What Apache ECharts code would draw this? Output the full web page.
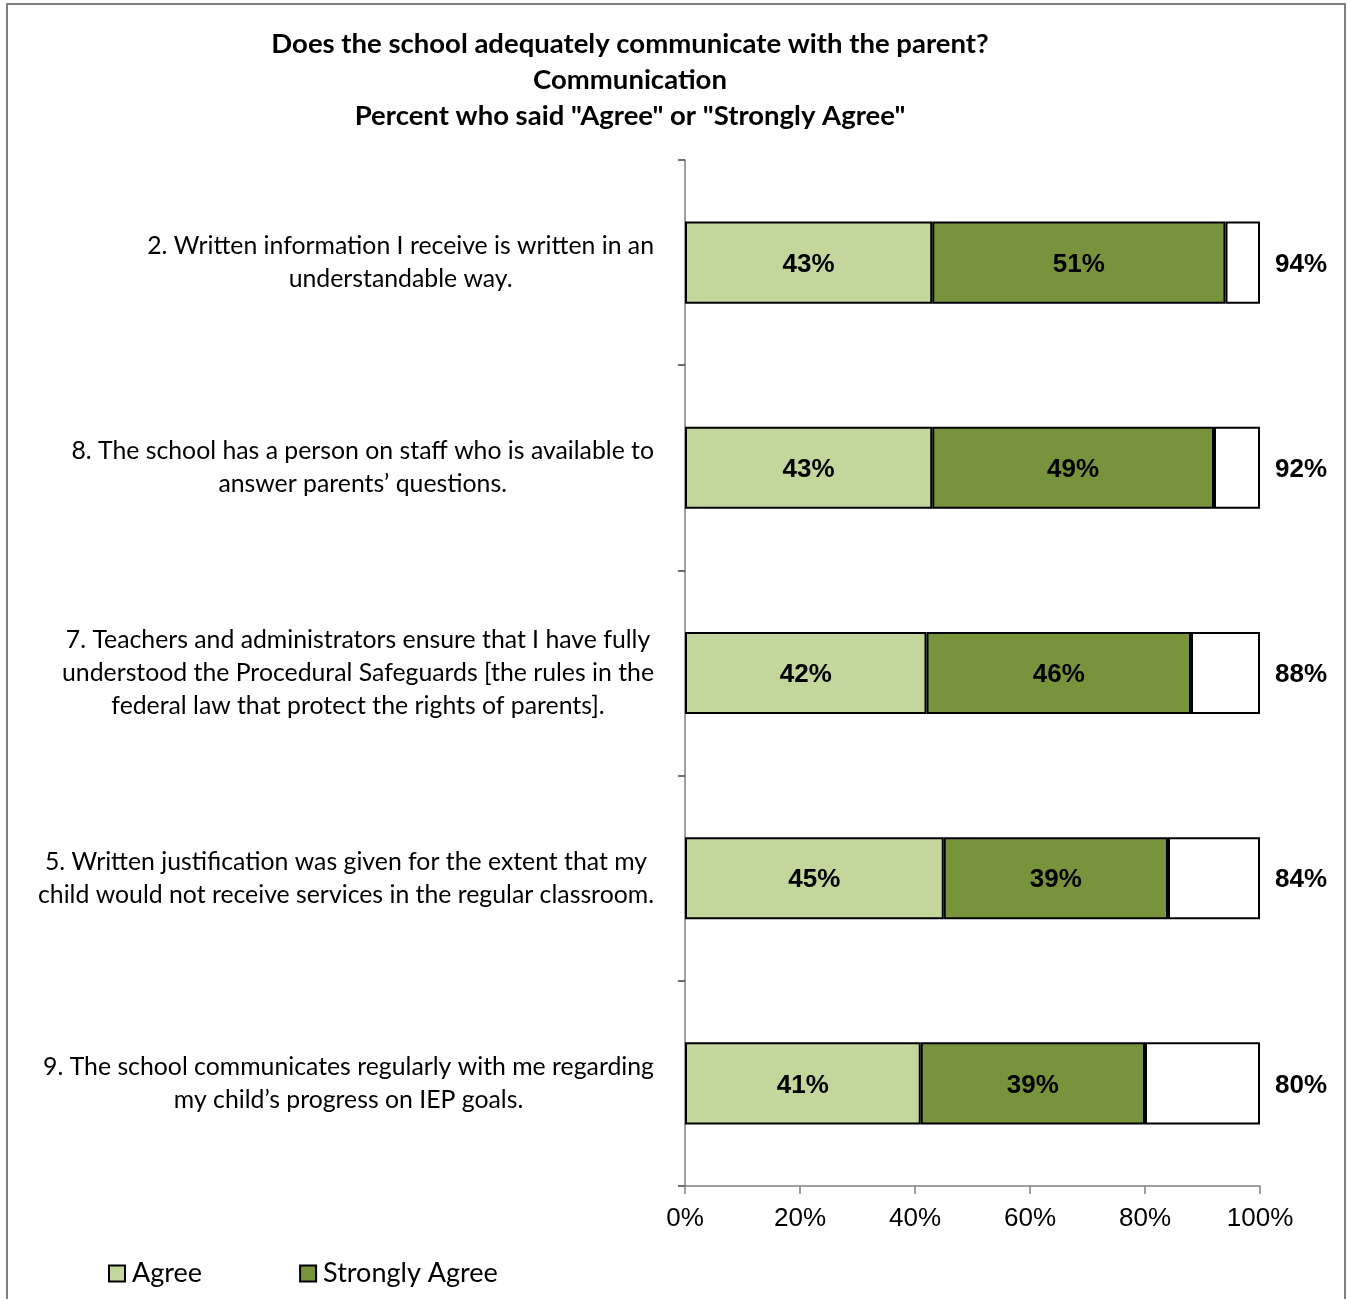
<!DOCTYPE html>
<html>
<head>
<meta charset="utf-8">
<title>Communication</title>
<script src="https://cdn.jsdelivr.net/npm/echarts@6/dist/echarts.min.js"></script>
<style>
  html, body { margin: 0; padding: 0; background: #ffffff; }
  #chart { width: 1349px; height: 1299px; }
</style>
</head>
<body>
<div id="chart"></div>
<script>
// Survey items, top to bottom
const questions = [
  '2. Written information I receive is written in an\nunderstandable way.',
  '8. The school has a person on staff who is available to\nanswer parents\u2019 questions.',
  '7. Teachers and administrators ensure that I have fully\nunderstood the Procedural Safeguards [the rules in the\nfederal law that protect the rights of parents].',
  '5. Written justification was given for the extent that my\nchild would not receive services in the regular classroom.',
  '9. The school communicates regularly with me regarding\nmy child\u2019s progress on IEP goals.'
];
const agree = [43, 43, 42, 45, 41];
const stronglyAgree = [51, 49, 46, 39, 39];
const xTicks = [0, 20, 40, 60, 80, 100];

const totals = agree.map((v, i) => v + stronglyAgree[i]);
const remainder = totals.map(t => 100 - t);

const chart = echarts.init(document.getElementById('chart'), null, { renderer: 'canvas' });

const labelFont = 'Liberation Sans, Arial, sans-serif';
const textFont = 'Lato, "Open Sans", sans-serif';

const valueLabel = {
  show: true,
  position: 'inside',
  offset: [0, 2],
  formatter: p => p.value + '%',
  fontFamily: labelFont,
  fontWeight: 'bold',
  fontSize: 26,
  color: '#000000'
};

chart.setOption({
  backgroundColor: '#ffffff',
  animation: false,
  title: {
    text: 'Does the school adequately communicate with the parent?\nCommunication\nPercent who said "Agree" or "Strongly Agree"',
    left: 625,
    top: 21,
    textAlign: 'center',
    textStyle: {
      fontFamily: textFont,
      fontWeight: 'bold',
      fontSize: 27.5,
      lineHeight: 36,
      color: '#000000'
    }
  },
  graphic: [{
    type: 'rect',
    shape: { x: 7, y: 4, width: 1338, height: 1320 },
    style: { fill: 'none', stroke: '#7f7f7f', lineWidth: 2 },
    silent: true,
    z: -1
  }],
  legend: {
    data: ['Agree', 'Strongly Agree'],
    left: 103,
    top: 1255,
    icon: 'rect',
    itemWidth: 16,
    itemHeight: 16,
    itemGap: 97,
    textStyle: { fontFamily: textFont, fontSize: 27, color: '#000000', padding: [0, 0, 0, 2] }
  },
  grid: { left: 685, right: 89, top: 160, bottom: 113, containLabel: false },
  xAxis: {
    type: 'value',
    min: xTicks[0],
    max: xTicks[xTicks.length - 1],
    interval: xTicks[1] - xTicks[0],
    axisLine: { show: true, lineStyle: { color: '#808080', width: 1.5 } },
    axisTick: { show: true, length: 8, lineStyle: { color: '#808080', width: 1.5 } },
    splitLine: { show: false },
    axisLabel: {
      formatter: '{value}%',
      fontFamily: labelFont,
      fontSize: 26,
      color: '#000000',
      margin: 20
    }
  },
  yAxis: {
    type: 'category',
    inverse: true,
    data: questions,
    axisLine: { show: true, lineStyle: { color: '#808080', width: 1.5 } },
    axisTick: { show: true, length: 7, lineStyle: { color: '#404040', width: 1.5 } },
    axisLabel: {
      margin: 31,
      align: 'right',
      formatter: v => v.split('\n').map(s => '{c|' + s + '}').join('\n'),
      rich: {
        c: {
          align: 'center',
          fontFamily: textFont,
          fontSize: 24.8,
          lineHeight: 33,
          color: '#000000'
        }
      }
    }
  },
  series: [
    {
      name: 'Agree',
      type: 'bar',
      stack: 'total',
      data: agree,
      barCategoryGap: '60%',
      itemStyle: { color: '#C3D69B', borderColor: '#000000', borderWidth: 2 },
      label: valueLabel
    },
    {
      name: 'Strongly Agree',
      type: 'bar',
      stack: 'total',
      data: stronglyAgree,
      itemStyle: { color: '#77933C', borderColor: '#000000', borderWidth: 2 },
      label: valueLabel
    },
    {
      name: 'Other',
      type: 'bar',
      stack: 'total',
      data: remainder,
      itemStyle: { color: '#ffffff', borderColor: '#000000', borderWidth: 2 },
      label: {
        show: true,
        position: 'right',
        distance: 15,
        offset: [0, 2],
        formatter: p => totals[p.dataIndex] + '%',
        fontFamily: labelFont,
        fontWeight: 'bold',
        fontSize: 26,
        color: '#000000'
      }
    }
  ]
});
</script>
</body>
</html>
